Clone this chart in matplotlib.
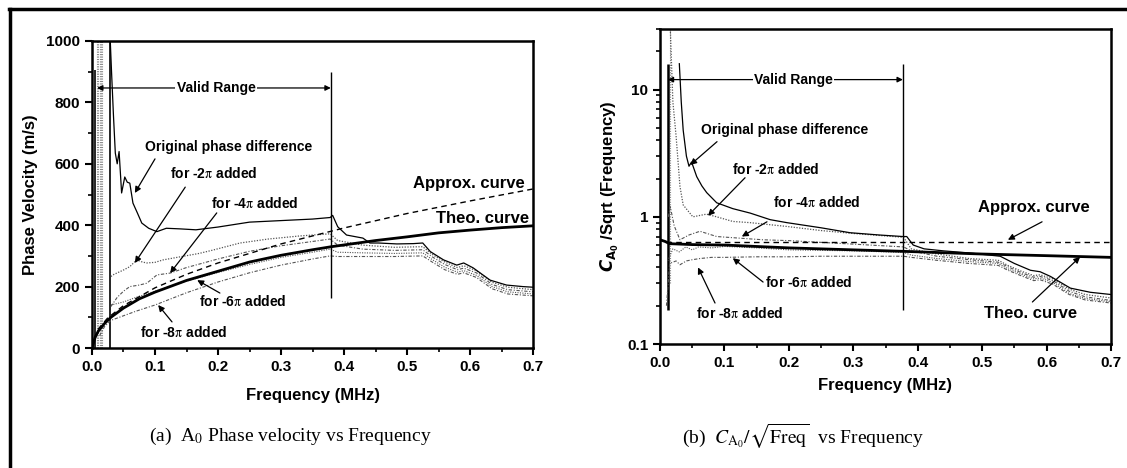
import matplotlib
matplotlib.use("Agg")
import matplotlib.pyplot as plt
from matplotlib.lines import Line2D
from matplotlib.ticker import MultipleLocator, LogLocator, NullFormatter

plt.rcParams['font.family'] = ['Liberation Sans', 'DejaVu Sans']
plt.rcParams['font.weight'] = 'normal'

# ---------------- Panel (a): phase velocity (m/s) vs frequency (MHz) ----------------
a_orig_f = [0.029, 0.031, 0.034, 0.037, 0.040, 0.043, 0.047, 0.052, 0.056, 0.060, 0.065, 0.072,
            0.079, 0.090, 0.103, 0.118, 0.14, 0.165, 0.20, 0.25, 0.30, 0.35, 0.378, 0.382, 0.39,
            0.404, 0.43, 0.441, 0.455, 0.484, 0.51, 0.525, 0.537, 0.558, 0.579, 0.59, 0.605,
            0.632, 0.658, 0.684, 0.70]
a_orig_v = [1000, 900, 760, 635, 600, 640, 505, 557, 540, 537, 472, 440,
            407, 390, 379, 390, 388, 385, 394, 410, 415, 420, 425, 432, 395,
            368, 358, 342, 342, 339, 340, 342, 314, 287, 270, 277, 261,
            221, 205, 200, 198]

a_m2_f = [0.030, 0.035, 0.05, 0.06, 0.071, 0.080, 0.087, 0.10, 0.113, 0.14, 0.17, 0.192, 0.235,
          0.28, 0.33, 0.378, 0.39, 0.43, 0.48, 0.525, 0.54, 0.56, 0.58, 0.59, 0.61, 0.635, 0.66, 0.70]
a_m2_v = [233, 240, 254, 265, 287, 280, 277, 279, 287, 297, 308, 319, 342,
          355, 365, 372, 350, 335, 328, 330, 305, 280, 262, 268, 252, 214, 198, 190]

a_m4_f = [0.030, 0.04, 0.05, 0.06, 0.075, 0.087, 0.103, 0.124, 0.15, 0.2, 0.25, 0.3, 0.35,
          0.378, 0.39, 0.43, 0.48, 0.525, 0.54, 0.56, 0.58, 0.59, 0.61, 0.635, 0.66, 0.70]
a_m4_v = [135, 165, 185, 200, 205, 211, 238, 244, 262, 290, 315, 333, 347,
          355, 335, 322, 318, 320, 297, 272, 255, 260, 245, 207, 190, 183]

a_m6_f = [0.03, 0.05, 0.07, 0.1, 0.15, 0.2, 0.25, 0.3, 0.35, 0.378, 0.39, 0.43, 0.48,
          0.525, 0.54, 0.56, 0.58, 0.59, 0.61, 0.635, 0.66, 0.70]
a_m6_v = [140, 150, 165, 185, 218, 246, 272, 295, 312, 322, 312, 310, 308,
          310, 288, 263, 247, 252, 237, 200, 183, 176]

a_m8_f = [0.012, 0.02, 0.03, 0.05, 0.07, 0.1, 0.15, 0.2, 0.25, 0.3, 0.35, 0.378, 0.39,
          0.43, 0.48, 0.525, 0.54, 0.56, 0.58, 0.59, 0.61, 0.635, 0.66, 0.70]
a_m8_v = [40, 70, 90, 105, 120, 140, 180, 215, 245, 270, 290, 300, 298,
          298, 298, 300, 280, 255, 240, 245, 230, 193, 176, 170]

a_theo_f = [0.0, 0.005, 0.01, 0.02, 0.03, 0.05, 0.075, 0.1, 0.15, 0.2, 0.25, 0.3, 0.35, 0.38,
            0.45, 0.5, 0.55, 0.6, 0.65, 0.7]
a_theo_v = [0, 35, 55, 80, 100, 130, 160, 182, 220, 250, 280, 302, 320, 330,
            350, 362, 375, 384, 392, 398]

a_apx_f = [0.0, 0.01, 0.025, 0.05, 0.1, 0.15, 0.2, 0.3, 0.4, 0.5, 0.6, 0.7]
a_apx_v = [0, 62, 98, 138, 196, 240, 277, 339, 391, 438, 479, 518]

# phase-wrap spikes near zero frequency
a_spike_solid_f = [0.005, 0.029]
a_spike_solid_lo = [0, 0]
a_spike_solid_hi = [905, 1000]
a_spike_dot_f = [0.008, 0.010, 0.012, 0.014, 0.016]

a_valid = [0.008, 0.379]
a_valid_line = [0.38, 163, 900]

a_xticks = [0.0, 0.1, 0.2, 0.3, 0.4, 0.5, 0.6, 0.7]
a_xticklabels = ['0.0', '0.1', '0.2', '0.3', '0.4', '0.5', '0.6', '0.7']
a_yticks = [0, 200, 400, 600, 800, 1000]
a_yticklabels = ['0', '200', '400', '600', '800', '1000']

# ---------------- Panel (b): C_A0/sqrt(freq) (log) vs frequency ----------------
b_orig_f = [0.030, 0.033, 0.036, 0.041, 0.045, 0.049, 0.057, 0.065, 0.0725, 0.088, 0.113, 0.14,
            0.171, 0.197, 0.25, 0.295, 0.34, 0.377, 0.383, 0.393, 0.41, 0.44, 0.48, 0.528,
            0.55, 0.575, 0.59, 0.606, 0.637, 0.668, 0.70]
b_orig_v = [16, 8, 4.8, 3.0, 2.5, 2.7, 2.07, 1.75, 1.55, 1.29, 1.16, 1.07,
            0.95, 0.90, 0.82, 0.75, 0.72, 0.70, 0.70, 0.60, 0.56, 0.54, 0.52, 0.49,
            0.43, 0.38, 0.37, 0.34, 0.275, 0.255, 0.245]

b_m2_f = [0.016, 0.020, 0.025, 0.031, 0.036, 0.051, 0.072, 0.088, 0.113, 0.14, 0.197, 0.25,
          0.30, 0.378, 0.39, 0.43, 0.48, 0.525, 0.54, 0.56, 0.58, 0.59, 0.61, 0.635, 0.66, 0.70]
b_m2_v = [30, 8.0, 4.3, 1.73, 1.24, 1.0, 1.05, 1.0, 0.92, 0.90, 0.84, 0.78,
          0.74, 0.69, 0.56, 0.51, 0.47, 0.455, 0.415, 0.375, 0.345, 0.35, 0.325, 0.27, 0.245, 0.23]

b_m4_f = [0.013, 0.016, 0.022, 0.031, 0.045, 0.062, 0.088, 0.123, 0.16, 0.2, 0.25, 0.3,
          0.378, 0.39, 0.43, 0.48, 0.525, 0.54, 0.56, 0.58, 0.59, 0.61, 0.635, 0.66, 0.70]
b_m4_v = [1.0, 1.2, 0.85, 0.66, 0.72, 0.77, 0.70, 0.68, 0.66, 0.65, 0.63, 0.61,
          0.58, 0.54, 0.49, 0.46, 0.44, 0.405, 0.365, 0.335, 0.34, 0.315, 0.26, 0.235, 0.22]

b_m6_f = [0.012, 0.02, 0.03, 0.04, 0.05, 0.06, 0.08, 0.1, 0.15, 0.2, 0.25, 0.3, 0.378,
          0.39, 0.43, 0.48, 0.525, 0.54, 0.56, 0.58, 0.59, 0.61, 0.635, 0.66, 0.70]
b_m6_v = [0.45, 0.56, 0.53, 0.58, 0.55, 0.58, 0.57, 0.585, 0.57, 0.55, 0.545, 0.54, 0.525,
          0.50, 0.47, 0.445, 0.43, 0.39, 0.355, 0.325, 0.33, 0.305, 0.25, 0.228, 0.215]

b_m8_f = [0.010, 0.015, 0.025, 0.031, 0.041, 0.05, 0.062, 0.08, 0.1, 0.15, 0.2, 0.25, 0.3,
          0.378, 0.39, 0.43, 0.48, 0.525, 0.54, 0.56, 0.58, 0.59, 0.61, 0.635, 0.66, 0.70]
b_m8_v = [0.20, 0.43, 0.45, 0.42, 0.45, 0.46, 0.47, 0.48, 0.48, 0.485, 0.485, 0.49, 0.49,
          0.49, 0.48, 0.455, 0.43, 0.415, 0.38, 0.345, 0.315, 0.32, 0.295, 0.245, 0.222, 0.21]

b_theo_f = [0.0, 0.008, 0.015, 0.05, 0.1, 0.2, 0.3, 0.38, 0.5, 0.6, 0.7]
b_theo_v = [0.66, 0.64, 0.615, 0.605, 0.60, 0.57, 0.55, 0.535, 0.51, 0.495, 0.48]

b_apx_f = [0.01, 0.7]
b_apx_v = [0.635, 0.635]

b_spike_solid_f = [0.0125]
b_spike_solid_lo = [0.185]
b_spike_solid_hi = [16]
b_spike_dot_f = [0.016]

b_valid = [0.012, 0.377]
b_valid_line = [0.377, 0.185, 16]

b_xticks = a_xticks
b_xticklabels = a_xticklabels
b_yticks = [0.1, 1, 10]
b_yticklabels = ['0.1', '1', '10']

# ---------------- text ----------------
lbl_orig = "Original phase difference"
lbl_m2 = r"for -2$\mathrm{\pi}$ added"
lbl_m4 = r"for -4$\mathrm{\pi}$ added"
lbl_m6 = r"for -6$\mathrm{\pi}$ added"
lbl_m8 = r"for -8$\mathrm{\pi}$ added"
lbl_apx = "Approx. curve"
lbl_theo = "Theo. curve"
lbl_valid = "Valid Range"
xlab = "Frequency (MHz)"
ylab_a = "Phase Velocity (m/s)"
ylab_b = r"$\mathbfit{C}_{\mathbf{A}_\mathbf{0}}$ /Sqrt (Frequency)"
cap_a = r"(a)  A$_0$ Phase velocity vs Frequency"
cap_b = r"(b)  $C_{\mathrm{A}_0}/\sqrt{\mathrm{Freq}}$  vs Frequency"

W, H = 1127, 468
fig = plt.figure(figsize=(W / 100, H / 100), dpi=100)
fig.patch.set_facecolor('white')

# outer frame (top and left)
fig.add_artist(Line2D([9 / W, 1.0], [1 - 9 / H, 1 - 9 / H], color='black', lw=2.5))
fig.add_artist(Line2D([10 / W, 10 / W], [0, 1 - 9 / H], color='black', lw=2.5))

axa = fig.add_axes([92 / W, 1 - 348 / H, (533 - 92) / W, (348 - 41) / H])
axb = fig.add_axes([660 / W, 1 - 344 / H, (1111 - 660) / W, (344 - 29) / H])

grey = '#555555'
dot = (0, (1, 1.2))
dashdot = (0, (3, 1.5, 1, 1.5))
B = dict(fontweight='bold')
L = dict(fontweight='bold', math_fontfamily='stix')


def style_axes(ax):
    for s in ax.spines.values():
        s.set_linewidth(1.8)
    ax.tick_params(which='major', direction='out', length=5, width=1.5, labelsize=11,
                   top=False, right=False)
    ax.tick_params(which='minor', direction='out', length=3, width=1.2, top=False, right=False)


# ---- panel a ----
ax = axa
for f in a_spike_dot_f:
    ax.vlines(f, 0, 1000, colors='#888888', linestyles=dot, lw=0.8)
ax.vlines(a_spike_solid_f, a_spike_solid_lo, a_spike_solid_hi, colors='black', lw=1.2)
ax.plot(a_m8_f, a_m8_v, color=grey, ls=dashdot, lw=0.8)
ax.plot(a_m6_f, a_m6_v, color=grey, ls=dot, lw=0.8)
ax.plot(a_m4_f, a_m4_v, color=grey, ls=dashdot, lw=0.8)
ax.plot(a_m2_f, a_m2_v, color=grey, ls=dot, lw=0.9)
ax.plot(a_orig_f, a_orig_v, color='black', lw=0.9)
ax.plot(a_apx_f, a_apx_v, color='black', ls=(0, (4, 3)), lw=1.0)
ax.plot(a_theo_f, a_theo_v, color='black', lw=2.0)
ax.vlines(a_valid_line[0], a_valid_line[1], a_valid_line[2], colors='black', lw=1.0)
ax.set_xlim(0, 0.7)
ax.set_ylim(0, 1000)
ax.set_xticks(a_xticks, a_xticklabels, **B)
ax.set_yticks(a_yticks, a_yticklabels, **B)
ax.xaxis.set_minor_locator(MultipleLocator(0.05))
ax.yaxis.set_minor_locator(MultipleLocator(100))
ax.set_xlabel(xlab, fontsize=12, labelpad=10, **B)
ax.set_ylabel(ylab_a, fontsize=12, labelpad=6, **B)
style_axes(ax)

arrow = dict(arrowstyle='-|>', color='black', lw=0.9, mutation_scale=9, shrinkA=0, shrinkB=0)
both = dict(arrowstyle='<|-|>', color='black', lw=0.9, mutation_scale=8, shrinkA=0, shrinkB=0)
ax.annotate('', xy=(a_valid[0], 847), xytext=(a_valid[1], 847), arrowprops=both)
ax.text(0.197, 847, lbl_valid, ha='center', va='center', fontsize=10,
        bbox=dict(facecolor='white', edgecolor='none', pad=1), **B)
ax.text(0.217, 655, lbl_orig, ha='center', va='center', fontsize=10, **B)
ax.annotate('', xy=(0.068, 505), xytext=(0.100, 616), arrowprops=arrow)
ax.text(0.194, 570, lbl_m2, ha='center', va='center', fontsize=10, **L)
ax.annotate('', xy=(0.068, 277), xytext=(0.148, 524), arrowprops=arrow)
ax.text(0.259, 472, lbl_m4, ha='center', va='center', fontsize=10, **L)
ax.annotate('', xy=(0.124, 244), xytext=(0.198, 440), arrowprops=arrow)
ax.text(0.240, 150, lbl_m6, ha='center', va='center', fontsize=10, **L)
ax.annotate('', xy=(0.167, 221), xytext=(0.203, 179), arrowprops=arrow)
ax.text(0.145, 52, lbl_m8, ha='center', va='center', fontsize=10, **L)
ax.annotate('', xy=(0.105, 140), xytext=(0.127, 85), arrowprops=arrow)
ax.text(0.687, 537, lbl_apx, ha='right', va='center', fontsize=12, **B)
ax.text(0.694, 423, lbl_theo, ha='right', va='center', fontsize=12, **B)

# ---- panel b ----
ax = axb
for f in b_spike_dot_f:
    ax.vlines(f, 0.3, 30, colors='#888888', linestyles=dot, lw=0.8)
ax.vlines(b_spike_solid_f, b_spike_solid_lo, b_spike_solid_hi, colors='black', lw=1.8)
ax.plot(b_m8_f, b_m8_v, color=grey, ls=dashdot, lw=0.8)
ax.plot(b_m6_f, b_m6_v, color=grey, ls=dot, lw=0.8)
ax.plot(b_m4_f, b_m4_v, color=grey, ls=dashdot, lw=0.8)
ax.plot(b_m2_f, b_m2_v, color=grey, ls=dot, lw=0.9)
ax.plot(b_orig_f, b_orig_v, color='black', lw=0.9)
ax.plot(b_apx_f, b_apx_v, color='black', ls=(0, (4, 3)), lw=1.0)
ax.plot(b_theo_f, b_theo_v, color='black', lw=2.0)
ax.vlines(b_valid_line[0], b_valid_line[1], b_valid_line[2], colors='black', lw=1.0)
ax.set_yscale('log')
ax.set_xlim(0, 0.7)
ax.set_ylim(0.1, 30)
ax.set_xticks(b_xticks, b_xticklabels, **B)
ax.set_yticks(b_yticks, b_yticklabels, **B)
ax.xaxis.set_minor_locator(MultipleLocator(0.05))
ax.yaxis.set_minor_locator(LogLocator(base=10, subs=range(2, 10)))
ax.yaxis.set_minor_formatter(NullFormatter())
ax.set_xlabel(xlab, fontsize=12, labelpad=6, **B)
ax.set_ylabel(ylab_b, fontsize=12, labelpad=4, **B)
style_axes(ax)

ax.annotate('', xy=(b_valid[0], 12.0), xytext=(b_valid[1], 12.0), arrowprops=both)
ax.text(0.207, 12.0, lbl_valid, ha='center', va='center', fontsize=10,
        bbox=dict(facecolor='white', edgecolor='none', pad=1), **B)
ax.text(0.194, 4.84, lbl_orig, ha='center', va='center', fontsize=10, **B)
ax.annotate('', xy=(0.047, 2.56), xytext=(0.0885, 3.9), arrowprops=arrow)
ax.text(0.18, 2.34, lbl_m2, ha='center', va='center', fontsize=10, **L)
ax.annotate('', xy=(0.0745, 1.02), xytext=(0.132, 2.03), arrowprops=arrow)
ax.text(0.244, 1.29, lbl_m4, ha='center', va='center', fontsize=10, **L)
ax.annotate('', xy=(0.127, 0.70), xytext=(0.166, 0.914), arrowprops=arrow)
ax.text(0.163, 0.302, lbl_m6, ha='left', va='center', fontsize=10, **L)
ax.annotate('', xy=(0.113, 0.473), xytext=(0.16, 0.307), arrowprops=arrow)
ax.text(0.124, 0.175, lbl_m8, ha='center', va='center', fontsize=10, **L)
ax.annotate('', xy=(0.059, 0.40), xytext=(0.0854, 0.21), arrowprops=arrow)
ax.text(0.581, 1.18, lbl_apx, ha='center', va='center', fontsize=12, **B)
ax.annotate('', xy=(0.54, 0.66), xytext=(0.593, 0.914), arrowprops=arrow)
ax.text(0.575, 0.175, lbl_theo, ha='center', va='center', fontsize=12, **B)
ax.annotate('', xy=(0.652, 0.484), xytext=(0.578, 0.214), arrowprops=arrow)

# captions
fig.text(290 / W, 1 - 436 / H, cap_a, ha='center', va='center', fontsize=14,
         family='Liberation Serif', fontweight='normal', math_fontfamily='stix')
fig.text(803 / W, 1 - 436 / H, cap_b, ha='center', va='center', fontsize=14,
         family='Liberation Serif', fontweight='normal', math_fontfamily='stix')

fig.savefig('out.png', dpi=100, facecolor='white')
